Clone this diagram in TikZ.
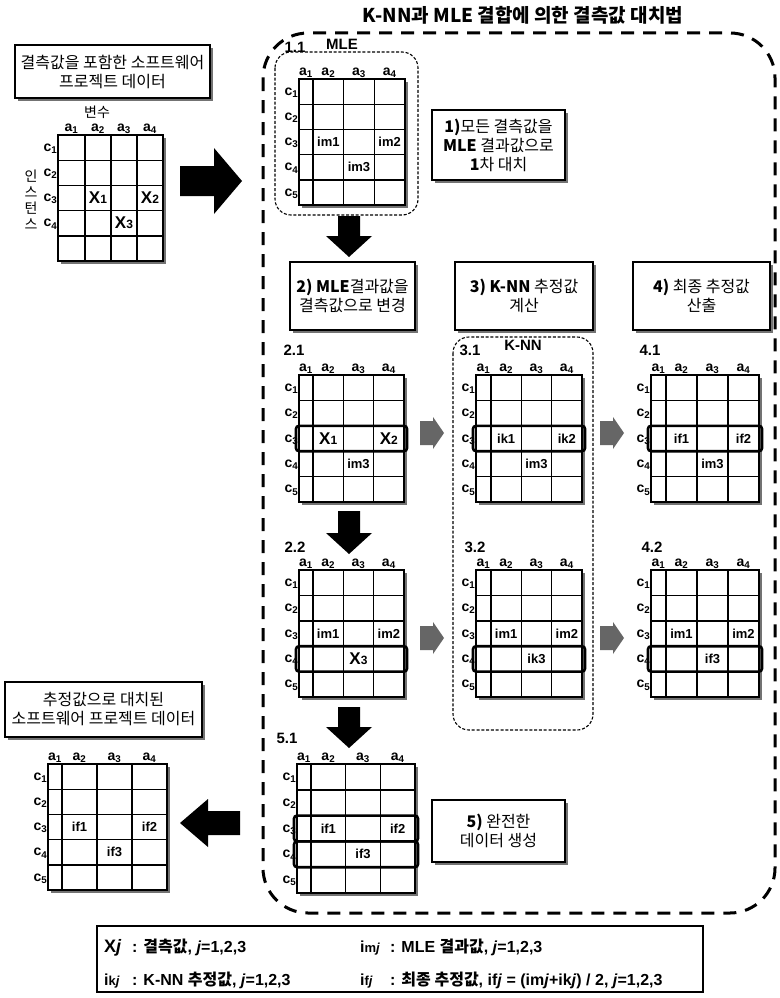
\documentclass[tikz,border=0pt]{standalone}
\usepackage{fontspec}
\setmainfont{Liberation Sans}
\newfontfamily\kr{Noto Sans CJK KR}
\usetikzlibrary{shadows}

\tikzset{
  gl/.style={line width=1.4pt, black},
  boxst/.style={draw=black, line width=1.1pt, fill=white, inner sep=0pt, outer sep=0pt,
    drop shadow={shadow xshift=3pt, shadow yshift=-3pt, fill=black!55, opacity=1},
    align=center, font=\kr\fontsize{16}{19}\selectfont},
  legbox/.style={draw=black, line width=1.1pt, fill=white, inner sep=0pt},
  hl/.style={draw=black, line width=2.6pt, rounded corners=3pt},
  thindash/.style={draw=black, line width=1.1pt, dash pattern=on 3pt off 1.8pt, rounded corners=16pt},
  bigdash/.style={draw=black, line width=3pt, dash pattern=on 13pt off 9pt, rounded corners=45pt},
  lab/.style={font=\fontsize{14}{14}\selectfont\bfseries, inner sep=0pt},
  numlab/.style={font=\fontsize{15}{15}\selectfont\bfseries, inner sep=0pt},
  xlab/.style={font=\fontsize{17}{17}\selectfont\bfseries, inner sep=0pt},
  ilab/.style={font=\fontsize{13}{13}\selectfont\bfseries, inner sep=0pt},
  korlab/.style={font=\kr\fontsize{14}{14}\selectfont, inner sep=0pt},
  legt/.style={font=\fontsize{16}{16}\selectfont\bfseries, inner sep=0pt, anchor=base west},
  garrow/.style={fill=black!60},
}

% grid: #1 name, #2 x0, #3 x1, #4 x4, #5 y0, #6 y5, #7 number of row labels
\newcommand\tgrid[7]{%
  \fill[black!55] (#2+3,#5+3) rectangle (#4+3,#6+3);
  \fill[white] (#2,#5) rectangle (#4,#6);
  \foreach \k in {1,...,4} {\pgfmathsetmacro\yy{#5+\k*(#6-#5)/5}\draw[gl] (#2,\yy) -- (#4,\yy);}
  \draw[gl] (#3,#5) -- (#3,#6);
  \foreach \k in {1,2} {\pgfmathsetmacro\xx{#3+\k*(#4-#3)/3}\draw[gl] (\xx,#5) -- (\xx,#6);}
  \draw[gl] (#2,#5) rectangle (#4,#6);
  \foreach \c in {1,...,4} {%
    \pgfmathsetmacro\xc{\c==1 ? (#2+#3)/2 : #3+(\c-1.5)*(#4-#3)/3}
    \node[lab, anchor=base] at (\xc,#5-4) {a\textsubscript{\c}};
    \foreach \r in {1,...,5} {%
      \pgfmathsetmacro\yc{#5+(\r-0.5)*(#6-#5)/5}
      \coordinate (#1-\r-\c) at (\xc,\yc);
    }
  }
  \foreach \r in {1,...,#7} {%
    \pgfmathsetmacro\yc{#5+(\r-0.5)*(#6-#5)/5}
    \node[lab, anchor=east] at (#2-0.5,\yc+1) {c\textsubscript{\r}};
  }
}
\newcommand\darr[2]{\fill (338,#1) -- (360,#1) -- (360,#2-21) -- (372,#2-21) -- (349,#2) -- (326,#2-21) -- (338,#2-21) -- cycle;}
\newcommand\garr[2]{\fill[garrow] (#1,#2-12) -- (#1+13,#2-12) -- (#1+13,#2-16) -- (#1+24,#2) -- (#1+13,#2+16) -- (#1+13,#2+12) -- (#1,#2+12) -- cycle;}
\newcommand\xs[1]{X{\fontsize{12}{12}\selectfont #1}}

\begin{document}
\begin{tikzpicture}[x=1pt,y=-1pt]
\useasboundingbox (0,0) rectangle (779,998);
\fill[white] (0,0) rectangle (779,998);

% title
\node[font=\kr\bfseries\fontsize{19}{19}\selectfont, inner sep=0pt] (title) at (523,15) {K-NN과 MLE 결합에 의한 결측값 대치법};

% big dashed region
\draw[bigdash] (263,33) rectangle (775,913);

% left input
\node[boxst, minimum width=195pt, minimum height=53pt] (bin) at (112.5,71.5) {결측값을 포함한 소프트웨어\\프로젝트 데이터};
\node[korlab] (var) at (97,112) {변수};
\node[korlab] at (31,176) {인};
\node[korlab] at (31,192) {스};
\node[korlab] at (31,208) {턴};
\node[korlab] at (31,224) {스};
\tgrid{g0}{58}{85}{163}{135}{261}{4}
\node[xlab] at (g0-3-2) {\xs{1}};
\node[xlab] at (g0-3-4) {\xs{2}};
\node[xlab] at (g0-4-3) {\xs{3}};

% big right arrow
\fill (180,166) -- (214,166) -- (214,148) -- (242,181) -- (214,214) -- (214,196) -- (180,196) -- cycle;

% 1.1 MLE
\draw[thindash] (275,52) rectangle (418,215);
\node[numlab] at (295,47) {1.1};
\node[numlab] at (342,44) {MLE};
\tgrid{g11}{299}{313}{405}{79}{205}{5}
\node[ilab] at (g11-3-2) {im1};
\node[ilab] at (g11-3-4) {im2};
\node[ilab] at (g11-4-3) {im3};
\node[boxst, minimum width=133pt, minimum height=70pt] (b1) at (498.5,145) {{\bfseries 1)}모든 결측값을\\{\bfseries MLE} 결과값으로\\{\bfseries 1}차 대치};

\darr{216}{257}

% step boxes
\node[boxst, minimum width=125pt, minimum height=68pt] (b2) at (352.5,296) {{\bfseries 2) MLE}결과값을\\결측값으로 변경};
\node[boxst, minimum width=138pt, minimum height=68pt] (b3) at (524,296) {{\bfseries 3) K-NN} 추정값\\계산};
\node[boxst, minimum width=137pt, minimum height=68pt] (b4) at (701.5,296) {{\bfseries 4)} 최종 추정값\\산출};

% K-NN box
\draw[thindash] (453,337) rectangle (593,730);

\node[numlab] at (294,350) {2.1};
\node[numlab] at (470,350) {3.1};
\node[numlab] at (523,345) {K-NN};
\node[numlab] at (650,350) {4.1};

\tgrid{g21}{299}{313}{404}{375}{502}{5}
\tgrid{g31}{476}{491}{582}{375}{502}{5}
\tgrid{g41}{651}{666}{759}{375}{502}{5}
\draw[hl] (296,425.8) rectangle (407,451.2);
\draw[hl] (473,425.8) rectangle (585,451.2);
\draw[hl] (648,425.8) rectangle (762,451.2);
\node[xlab] at (g21-3-2) {\xs{1}};
\node[xlab] at (g21-3-4) {\xs{2}};
\node[ilab] at (g21-4-3) {im3};
\node[ilab] at (g31-3-2) {ik1};
\node[ilab] at (g31-3-4) {ik2};
\node[ilab] at (g31-4-3) {im3};
\node[ilab] at (g41-3-2) {if1};
\node[ilab] at (g41-3-4) {if2};
\node[ilab] at (g41-4-3) {im3};

\garr{420}{433}
\garr{600}{433}

\darr{511}{554}

\node[numlab] at (295,547) {2.2};
\node[numlab] at (475,547) {3.2};
\node[numlab] at (652,547) {4.2};
\tgrid{g22}{299}{313}{404}{570}{697}{5}
\tgrid{g32}{476}{491}{582}{570}{697}{5}
\tgrid{g42}{651}{666}{759}{570}{697}{5}
\draw[hl] (296,646.2) rectangle (407,671.6);
\draw[hl] (473,646.2) rectangle (585,671.6);
\draw[hl] (648,646.2) rectangle (762,671.6);
\node[ilab] at (g22-3-2) {im1};
\node[ilab] at (g22-3-4) {im2};
\node[xlab] at (g22-4-3) {\xs{3}};
\node[ilab] at (g32-3-2) {im1};
\node[ilab] at (g32-3-4) {im2};
\node[ilab] at (g32-4-3) {ik3};
\node[ilab] at (g42-3-2) {im1};
\node[ilab] at (g42-3-4) {im2};
\node[ilab] at (g42-4-3) {if3};

\garr{420}{638}
\garr{600}{638}

\darr{707}{748}

% 5.1
\node[numlab] at (287,738) {5.1};
\tgrid{g51}{297}{311}{415}{764}{893}{5}
\draw[hl] (294,815.6) rectangle (418,841.4);
\draw[hl] (294,841.4) rectangle (418,867.2);
\node[ilab] at (g51-3-2) {if1};
\node[ilab] at (g51-3-4) {if2};
\node[ilab] at (g51-4-3) {if3};
\node[boxst, minimum width=133pt, minimum height=62pt] (b5) at (498.5,831) {{\bfseries 5)} 완전한\\데이터 생성};

% output
\fill (240,811) -- (208,811) -- (208,799) -- (180,823) -- (208,847) -- (208,835) -- (240,835) -- cycle;
\node[boxst, minimum width=197pt, minimum height=55pt] (bout) at (103.5,709.5) {추정값으로 대치된\\소프트웨어 프로젝트 데이터};
\tgrid{gout}{48}{62}{167}{764}{890}{5}
\node[ilab] at (gout-3-2) {if1};
\node[ilab] at (gout-3-4) {if2};
\node[ilab] at (gout-4-3) {if3};

% legend
\node[legbox, minimum width=606pt, minimum height=66pt] (leg) at (400,959) {};
\node[legt, font=\fontsize{18}{18}\selectfont\bfseries] at (104,952) {X\textit{j}};
\node[legt] at (132,952) {: {\kr 결측값}, \textit{j}=1,2,3};
\node[legt, font=\fontsize{16}{16}\selectfont\bfseries] at (104,985) {i{\fontsize{13}{13}\selectfont k\textit{j}}};
\node[legt] at (132,985) {: K-NN {\kr 추정값}, \textit{j}=1,2,3};
\node[legt, font=\fontsize{16}{16}\selectfont\bfseries] at (360,952) {i{\fontsize{13}{13}\selectfont m\textit{j}}};
\node[legt] at (390,952) {: MLE {\kr 결과값}, \textit{j}=1,2,3};
\node[legt, font=\fontsize{16}{16}\selectfont\bfseries] at (360,985) {i{\fontsize{13}{13}\selectfont f\textit{j}}};
\node[legt] at (390,985) {: {\kr 최종 추정값}, if\textit{j} = (im\textit{j}+ik\textit{j}) / 2, \textit{j}=1,2,3};
\end{tikzpicture}
\end{document}
